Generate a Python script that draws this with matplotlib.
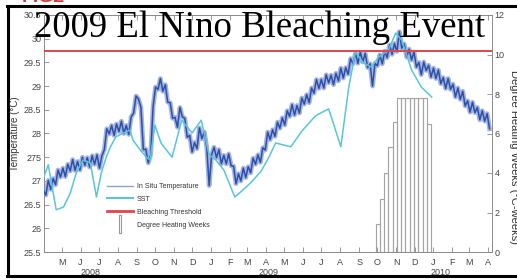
import matplotlib
matplotlib.use('Agg')
import matplotlib.pyplot as plt
import matplotlib.dates as mdates
from matplotlib.lines import Line2D
import pandas as pd

plt.rcParams['font.family'] = ['Liberation Sans', 'DejaVu Sans']

# in situ logger temperature, one reading every 4 days from 1 Apr 2008
insitu_start = '2008-04-01'
insitu_temp = [
    26.80, 26.70, 27.01, 26.82, 27.05, 26.92, 27.23, 27.08, 27.27, 27.09,
    27.35, 27.21, 27.45, 27.22, 27.41, 27.23, 27.50, 27.33, 27.49, 27.29,
    27.53, 27.35, 27.55, 27.27, 27.53, 27.66, 28.10, 27.99, 28.17, 27.96,
    28.20, 28.04, 28.26, 28.00, 28.17, 27.98, 28.35, 28.43, 28.79, 28.73,
    28.55, 27.66, 27.67, 27.38, 27.55, 28.57, 28.98, 28.93, 29.16, 28.89,
    29.03, 28.66, 28.65, 28.32, 28.34, 28.13, 28.55, 28.35, 28.32, 27.92,
    27.96, 27.61, 27.81, 27.68, 28.12, 27.89, 28.03, 27.71, 26.90, 27.55,
    27.71, 27.49, 27.66, 27.36, 27.54, 27.36, 27.57, 27.32, 27.31, 26.94,
    27.15, 27.00, 27.27, 27.07, 27.30, 27.17, 27.48, 27.35, 27.55, 27.39,
    27.70, 27.65, 28.03, 27.87, 28.08, 27.94, 28.24, 28.11, 28.33, 28.18,
    28.48, 28.36, 28.61, 28.39, 28.59, 28.43, 28.75, 28.62, 28.82, 28.65,
    28.96, 28.85, 29.14, 28.95, 29.14, 28.96, 29.24, 29.07, 29.23, 29.03,
    29.27, 29.11, 29.38, 29.17, 29.39, 29.25, 29.58, 29.47, 29.69, 29.48,
    29.71, 29.51, 29.69, 29.39, 29.47, 29.00, 29.48, 29.43, 29.66, 29.47,
    29.74, 29.60, 29.87, 29.67, 29.90, 29.73, 30.15, 29.80, 29.89, 29.61,
    29.78, 29.55, 29.72, 29.40, 29.50, 29.24, 29.51, 29.33, 29.44, 29.19,
    29.38, 29.16, 29.34, 29.05, 29.18, 28.95, 29.16, 28.93, 29.04, 28.77,
    28.96, 28.72, 28.89, 28.58, 28.69, 28.45, 28.66, 28.44, 28.55, 28.29,
    28.48, 28.26, 28.42, 28.10,
]

sst_dates = [
    '2008-04-01', '2008-04-09', '2008-04-22', '2008-05-04', '2008-05-15',
    '2008-05-25', '2008-06-05', '2008-06-17', '2008-06-27', '2008-07-05',
    '2008-07-13', '2008-07-20', '2008-07-29', '2008-08-10', '2008-08-21',
    '2008-08-26', '2008-09-07', '2008-09-17', '2008-09-23', '2008-10-01',
    '2008-10-11', '2008-10-29', '2008-11-14', '2008-12-01', '2008-12-16',
    '2008-12-29', '2009-01-09', '2009-01-22', '2009-02-09', '2009-02-19',
    '2009-03-07', '2009-03-24', '2009-04-06', '2009-04-17', '2009-05-12',
    '2009-05-30', '2009-06-22', '2009-07-13', '2009-08-02', '2009-08-15',
    '2009-08-26', '2009-09-08', '2009-09-21', '2009-10-03', '2009-10-19',
    '2009-10-31', '2009-11-10', '2009-11-26', '2009-12-12', '2009-12-29',
]
sst_temp = [
    27.06, 27.34, 26.39, 26.45, 26.74, 27.17, 27.44, 27.38, 26.66, 27.17,
    27.50, 27.72, 27.93, 28.01, 28.07, 27.86, 27.65, 27.50, 27.44, 28.18,
    27.80, 27.50, 28.28, 28.01, 28.28, 27.55, 27.44, 27.23, 26.66, 26.77,
    26.96, 27.20, 27.50, 27.80, 27.72, 28.05, 28.38, 28.52, 27.72, 28.98,
    29.72, 29.49, 29.40, 29.61, 29.76, 30.12, 29.97, 29.34, 28.98, 28.77,
]

# degree heating weeks, weekly from 28 Sep 2009
dhw_start = '2009-09-28'
dhw_values = [1.4, 2.7, 4.0, 5.3, 6.6, 7.8, 7.8, 7.8, 7.8, 7.8, 7.8, 7.8, 6.5]

threshold = 29.75
temp_ticks = [25.5, 26, 26.5, 27, 27.5, 28, 28.5, 29, 29.5, 30, 30.5]
temp_ticklabels = ['25.5', '26', '26.5', '27', '275', '28', '28.5', '29', '29.5', '30', '30.5']
dhw_ticks = [0, 2, 4, 6, 8, 10, 12]
years = [('2008', '2008-06-18'), ('2009', '2009-04-06'), ('2010', '2010-01-12')]

insitu_dates = pd.date_range(insitu_start, periods=len(insitu_temp), freq='4D')
sst_x = pd.to_datetime(sst_dates)
dhw_dates = pd.date_range(dhw_start, periods=len(dhw_values), freq='7D')

W, H = 517, 280
fig = plt.figure(figsize=(W / 100, H / 100), dpi=100)
ax = fig.add_axes([44 / W, 1 - 252 / H, 448 / W, 237 / H])
ax2 = ax.twinx()
ax.set_zorder(ax2.get_zorder() + 1)
ax.patch.set_visible(False)

# DHW bars on the right axis
ax2.bar(dhw_dates, dhw_values, width=7, align='edge', fill=False,
        edgecolor='#a3a3a3', linewidth=0.8)
ax2.set_ylim(0, 12)
ax2.set_yticks(dhw_ticks)

ax.plot(insitu_dates, insitu_temp, color='#a6b4e2', lw=3.4, solid_joinstyle='round', zorder=2)
ax.plot(insitu_dates, insitu_temp, color='#2c50a6', lw=1.1, zorder=3)
ax.plot(sst_x, sst_temp, color='#58c6d8', lw=1.1, zorder=4)
ax.axhline(threshold, color='#e0454c', lw=1.4, zorder=5)

ax.set_ylim(25.5, 30.5)
ax.set_yticks(temp_ticks)
ax.set_yticklabels(temp_ticklabels)
ax.set_xlim(pd.Timestamp('2008-04-02'), pd.Timestamp('2010-04-07'))
ax.xaxis.set_major_locator(mdates.MonthLocator())
ax.xaxis.set_major_formatter(mdates.DateFormatter('%b'))
fig.canvas.draw()
ax.set_xticklabels([t.get_text()[:1] for t in ax.get_xticklabels()])

for a in (ax, ax2):
    for s in a.spines.values():
        s.set_color('#8a8a8a')
        s.set_linewidth(0.6)
ax.tick_params(axis='both', direction='in', length=3.5, width=0.6, color='#8a8a8a',
               labelsize=6.5, labelcolor='#444444', pad=2)
ax.tick_params(axis='x', top=True, pad=4)
ax2.tick_params(axis='y', direction='in', length=3.5, width=0.6, color='#8a8a8a',
                labelsize=6.5, labelcolor='#444444', pad=2)

for label, d in years:
    ax.text(pd.Timestamp(d), -0.085, label, transform=ax.get_xaxis_transform(),
            ha='center', va='center', fontsize=6.5, color='#444444')

fig.text(15 / W, 1 - 134 / H, 'Temperature (°C)', rotation=90, ha='center', va='center',
         fontsize=7, color='#333333')
fig.text(514 / W, 1 - 157 / H, 'Degree Heating Weeks (°C-weeks)', rotation=270,
         ha='center', va='center', fontsize=8, color='#333333')

handles = [
    Line2D([], [], color='#8f9fd8', lw=1.0),
    Line2D([], [], color='#58c6d8', lw=1.5),
    Line2D([], [], color='#e0454c', lw=2.0),
    Line2D([], [], ls='none', marker=[(-0.12, -1), (0.12, -1), (0.12, 1), (-0.12, 1), (-0.12, -1)],
           markersize=13, markerfacecolor='none', markeredgecolor='#999999', markeredgewidth=0.8),
]
labels = ['In Situ Temperature', 'SST', 'Bleaching Threshold', 'Degree Heating Weeks']
ax.legend(handles, labels, loc='upper left', bbox_to_anchor=((107 - 44) / 448, (252 - 183) / 237),
          frameon=False, fontsize=5, handlelength=3.7, handletextpad=0.6, labelspacing=0.85,
          borderpad=0, borderaxespad=0, labelcolor='#333333')

fig.text(0.503, 1 - 37 / H, '2009 El Nino Bleaching Event', ha='center', va='baseline',
         fontsize=26.5, family='Liberation Serif', color='black', zorder=10)
fig.text(22 / W, 1 - 2.5 / H, 'FIG2', ha='left', va='baseline', fontsize=14,
         fontweight='bold', color='#d23a3a')

# black frame round the figure
fig.add_artist(Line2D([7 / W, 1], [1 - 6 / H] * 2, color='black', lw=2.2, transform=fig.transFigure))
fig.add_artist(Line2D([8 / W] * 2, [1 - 6 / H, 1 - 276 / H], color='black', lw=2.2, transform=fig.transFigure))
fig.add_artist(Line2D([7 / W, 1], [1 - 276 / H] * 2, color='black', lw=2.2, transform=fig.transFigure))

fig.savefig('out.png', dpi=100)
